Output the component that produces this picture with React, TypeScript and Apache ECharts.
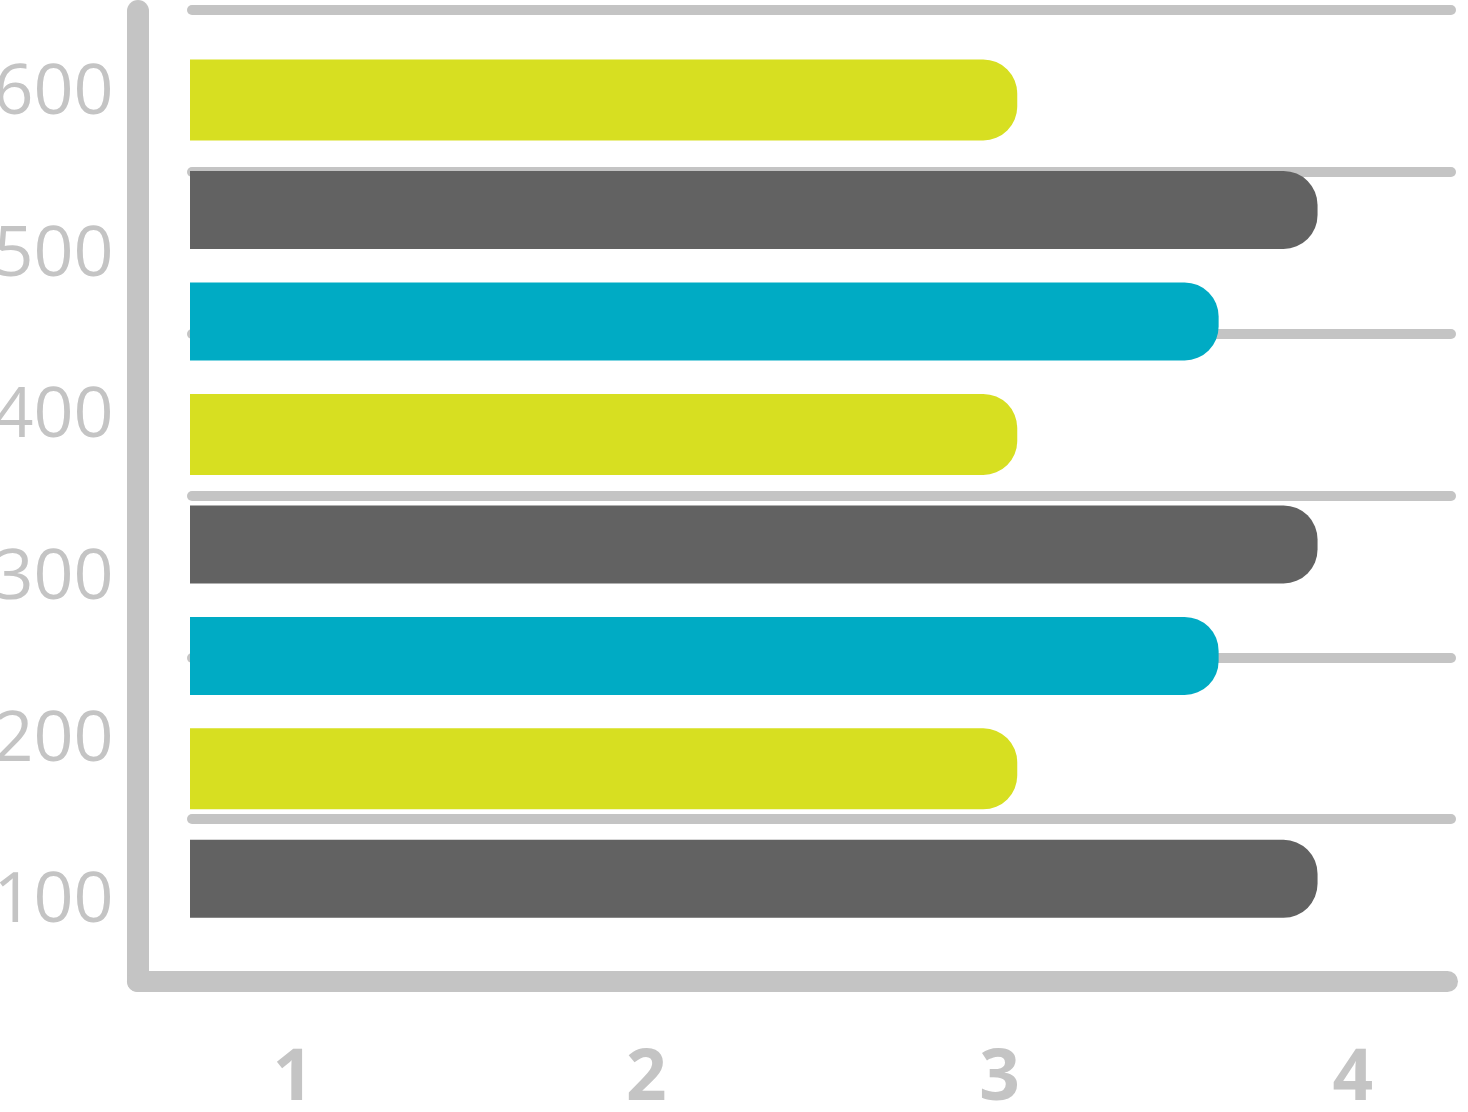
import React, { useEffect, useRef } from "react";
import * as echarts from "echarts";

// ---- data ----
const yCategories = ["100", "200", "300", "400", "500", "600"];
const barNames = ["Bar 1", "Bar 2", "Bar 3", "Bar 4", "Bar 5", "Bar 6", "Bar 7", "Bar 8"]; // top to bottom
const yellowValues = [3.05, null, null, 3.05, null, null, 3.05, null];
const cyanValues = [null, null, 3.62, null, null, 3.62, null, null];
const greyValues = [null, 3.9, null, null, 3.9, null, null, 3.9];
const xTickLabels = [1, 2, 3, 4];

// ---- styles ----
const AXIS_GREY = "#C4C4C4";
const YELLOW = "#D7DF21";
const GREY = "#626262";
const CYAN = "#00ABC4";
const FONT = "'Open Sans', 'Noto Sans', sans-serif";

export default function App() {
  const ref = useRef<HTMLDivElement | null>(null);

  useEffect(() => {
    document.body.style.margin = "0";
    if (!ref.current) return;
    const chart = echarts.init(ref.current, null, { renderer: "svg" });
    const option: any = {
      animation: false,
      backgroundColor: "#ffffff",
      grid: [
        { left: 137.5, right: 20.5, top: 11, bottom: 131, outerBoundsMode: "none", containLabel: false },
        { left: 192, right: 17, top: 10, bottom: 131, outerBoundsMode: "none", containLabel: false },
        { left: 190, right: 17, top: 42.7, bottom: 177.4, outerBoundsMode: "none", containLabel: false },
      ],
      xAxis: [
        {
          gridIndex: 0,
          type: "value",
          min: 0.5599,
          max: 4.2677,
          axisLine: { show: true, lineStyle: { color: AXIS_GREY, width: 21, cap: "round" } },
          axisTick: { show: false },
          splitLine: { show: false },
          axisLabel: {
            margin: 56,
            fontSize: 71,
            fontWeight: "bold",
            color: AXIS_GREY,
            fontFamily: FONT,
            showMinLabel: false,
            showMaxLabel: false,
            formatter: (v: number) => {
              const r = Math.round(v * 1000) / 1000;
              return xTickLabels.indexOf(r) >= 0 ? String(r) : "";
            },
          },
        },
        { gridIndex: 1, type: "value", show: false },
        { gridIndex: 2, type: "value", min: 0.7085, max: 4.2777, show: false },
      ],
      yAxis: [
        {
          gridIndex: 0,
          type: "category",
          data: yCategories,
          axisLine: { show: true, lineStyle: { color: AXIS_GREY, width: 22, cap: "round" } },
          axisTick: { show: false },
          splitLine: { show: false },
          axisLabel: {
            margin: 24,
            fontSize: 70,
            color: AXIS_GREY,
            fontFamily: FONT,
            interval: 0,
            verticalAlign: "bottom",
            lineHeight: 10,
          },
        },
        {
          gridIndex: 1,
          type: "category",
          data: yCategories,
          axisLine: { show: false },
          axisTick: { show: false, interval: 0 },
          axisLabel: { show: false, interval: 0 },
          splitLine: {
            show: true,
            interval: 0,
            lineStyle: { color: AXIS_GREY, width: 10, cap: "round" },
          },
        },
        {
          gridIndex: 2,
          type: "category",
          data: barNames,
          inverse: true,
          show: false,
        },
      ],
      series: [
        {
          type: "bar",
          name: "Yellow",
          xAxisIndex: 2,
          yAxisIndex: 2,
          data: yellowValues,
          barWidth: 81,
          barGap: "-100%",
          itemStyle: { color: YELLOW, borderRadius: [0, 34, 34, 0] },
        },
        {
          type: "bar",
          name: "Cyan",
          xAxisIndex: 2,
          yAxisIndex: 2,
          data: cyanValues,
          barWidth: 78,
          barGap: "-100%",
          itemStyle: { color: CYAN, borderRadius: [0, 34, 34, 0] },
        },
        {
          type: "bar",
          name: "Grey",
          xAxisIndex: 2,
          yAxisIndex: 2,
          data: greyValues,
          barWidth: 78,
          barGap: "-100%",
          itemStyle: { color: GREY, borderRadius: [0, 34, 34, 0] },
        },
      ],
    };
    chart.setOption(option);
    return () => chart.dispose();
  }, []);

  return (
    <div
      ref={ref}
      style={{ position: "fixed", left: 0, top: 0, width: 1468, height: 1112, background: "#fff" }}
    />
  );
}
